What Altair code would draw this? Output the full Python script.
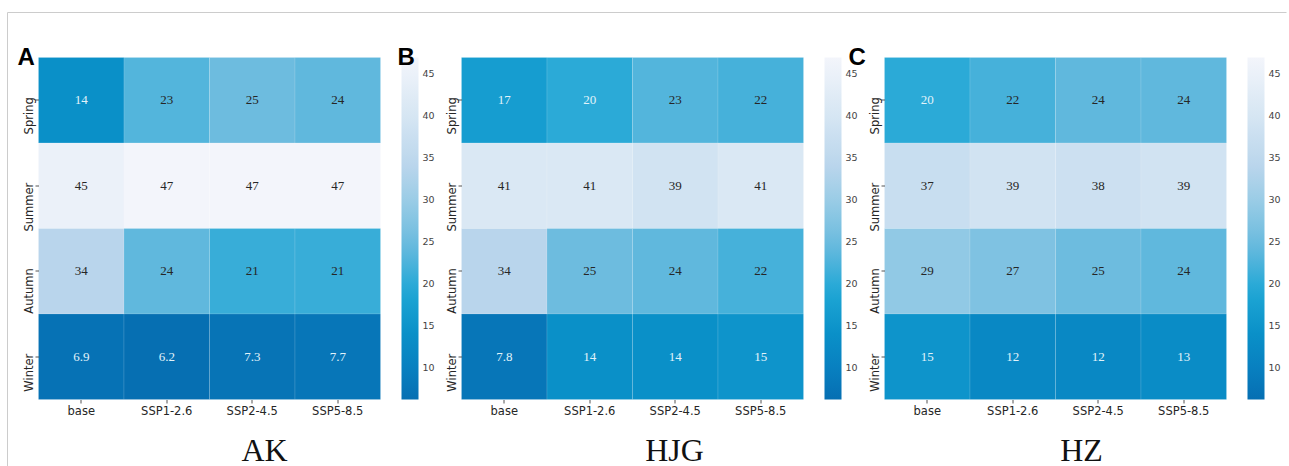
import altair as alt
import pandas as pd

seasons = ["Spring", "Summer", "Autumn", "Winter"]
scenarios = ["base", "SSP1-2.6", "SSP2-4.5", "SSP5-8.5"]

ak_values = [[14, 23, 25, 24],
             [45, 47, 47, 47],
             [34, 24, 21, 21],
             [6.9, 6.2, 7.3, 7.7]]
hjg_values = [[17, 20, 23, 22],
              [41, 41, 39, 41],
              [34, 25, 24, 22],
              [7.8, 14, 14, 15]]
hz_values = [[20, 22, 24, 24],
             [37, 39, 38, 39],
             [29, 27, 25, 24],
             [15, 12, 12, 13]]

panel_titles = ["AK", "HJG", "HZ"]
panel_letters = ["A", "B", "C"]
legend_values = [10, 15, 20, 25, 30, 35, 40, 45]

color_domain = [6.2, 10, 14, 19, 25, 30, 34, 40, 47]
color_range = ["#066fb2", "#0880c0", "#0a90c8", "#1ea6d5", "#6dbcdf",
               "#9acce6", "#b9d5ec", "#d6e6f3", "#f3f5fb"]

W = 342
H = 342
# per-panel offsets (pixels relative to each heatmap)
letter_dx = [-21, -64, -36]
title_cx = [226, 213, 197]


def make_panel(vals, title, letter, ldx, tcx, frame):
    rows = []
    for i, s in enumerate(seasons):
        for j, c in enumerate(scenarios):
            v = vals[i][j]
            rows.append({"season": s, "scenario": c, "value": v,
                         "label": f"{v:.2g}"})
    df = pd.DataFrame(rows)
    base = alt.Chart(df)

    x = alt.X("scenario:N", sort=scenarios,
              scale=alt.Scale(paddingInner=0, paddingOuter=0),
              axis=alt.Axis(title=None, labelAngle=0, domain=False,
                            tickSize=3.5, tickColor="#555555",
                            labelFont="DejaVu Sans", labelFontSize=11.5,
                            labelColor="#262626", labelPadding=2))
    y = alt.Y("season:N", sort=seasons,
              scale=alt.Scale(paddingInner=0, paddingOuter=0),
              axis=alt.Axis(title=None, labelAngle=270, labelAlign="right",
                            labelBaseline="bottom", labelOffset=-3,
                            domain=False, tickSize=3.5, tickColor="#555555",
                            labelFont="DejaVu Sans", labelFontSize=11.5,
                            labelColor="#262626", labelPadding=1))

    rect = base.mark_rect(stroke="#ffffff", strokeOpacity=0.12,
                          strokeWidth=1).encode(
        x=x, y=y,
        color=alt.Color("value:Q",
                        scale=alt.Scale(domain=color_domain,
                                        range=color_range,
                                        interpolate="rgb"),
                        legend=alt.Legend(title=None, orient="none",
                                          legendX=W + 21, legendY=0,
                                          direction="vertical",
                                          gradientLength=H,
                                          gradientThickness=17,
                                          gradientStrokeWidth=0,
                                          values=legend_values,
                                          labelFont="DejaVu Sans",
                                          labelFontSize=9.5,
                                          labelColor="#444444",
                                          labelOffset=4, padding=0))
    )
    text = base.mark_text(font="Liberation Serif", fontSize=13).encode(
        x=alt.X("scenario:N", sort=scenarios),
        y=alt.Y("season:N", sort=seasons),
        text="label:N",
        color=alt.condition(alt.datum.value < 20.5,
                            alt.value("#e2f3fa"), alt.value("#262626")),
    )
    one = alt.Chart(pd.DataFrame({"k": [0]}))
    let = one.mark_text(font="Liberation Sans", fontWeight="bold",
                        fontSize=24, align="left",
                        baseline="alphabetic", color="#000000").encode(
        x=alt.value(ldx), y=alt.value(7.5), text=alt.value(letter))
    ttl = one.mark_text(font="Liberation Serif", fontSize=32,
                        align="center", baseline="alphabetic",
                        color="#111111").encode(
        x=alt.value(tcx), y=alt.value(403), text=alt.value(title))
    layers = [rect, text, let, ttl]
    if frame:
        hline = one.mark_rule(color="#cccccc", strokeWidth=1).encode(
            x=alt.value(-31), x2=alt.value(1248), y=alt.value(-45))
        vline = one.mark_rule(color="#cccccc", strokeWidth=1).encode(
            x=alt.value(-31), y=alt.value(-45), y2=alt.value(409))
        layers = [hline, vline] + layers
    return alt.layer(*layers).properties(width=W, height=H)


panels = [
    make_panel(ak_values, panel_titles[0], panel_letters[0], letter_dx[0], title_cx[0], True),
    make_panel(hjg_values, panel_titles[1], panel_letters[1], letter_dx[1], title_cx[1], False),
    make_panel(hz_values, panel_titles[2], panel_letters[2], letter_dx[2], title_cx[2], False),
]

chart = alt.hconcat(*panels, spacing=81, bounds="flush").resolve_scale(
    color="independent").resolve_legend(color="independent").properties(
    padding={"left": 6.5, "top": 11.5, "right": 0, "bottom": 0},
    background="#ffffff",
).configure_view(strokeWidth=0)

chart.save("out.html", embed_options={"renderer": "svg", "actions": False})
